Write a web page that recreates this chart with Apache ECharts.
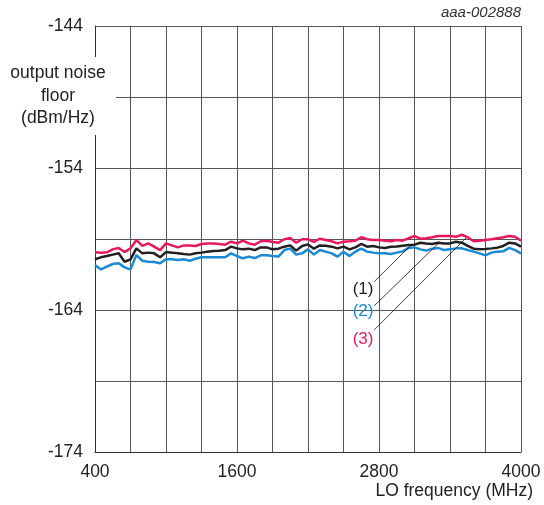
<!DOCTYPE html>
<html>
<head>
<meta charset="utf-8">
<script src="https://cdn.jsdelivr.net/npm/echarts@6/dist/echarts.min.js"></script>
<style>
html,body{margin:0;padding:0;background:#fff;}
#chart{width:544px;height:505px;}
</style>
</head>
<body>
<div id="chart"></div>
<script>
// LO frequency (MHz), 50 MHz steps
var freqs = [];
for (var f = 400; f <= 4000; f += 50) freqs.push(f);

// series (3) red
var noise3 = [-159.94,-159.96,-159.94,-159.73,-159.63,-159.92,-159.66,-159.07,-159.49,-159.31,
-159.54,-159.78,-159.31,-159.45,-159.59,-159.45,-159.45,-159.49,-159.35,-159.31,
-159.31,-159.35,-159.40,-159.19,-159.31,-159.12,-159.31,-159.40,-159.16,-159.12,
-159.21,-159.26,-159.02,-158.93,-159.26,-159.02,-159.02,-159.21,-158.98,-159.07,
-159.16,-159.31,-159.19,-159.16,-159.12,-158.88,-159.02,-159.07,-159.07,-159.12,
-159.16,-159.07,-159.12,-158.95,-158.79,-158.98,-158.95,-158.88,-158.79,-158.79,
-158.79,-158.84,-158.70,-158.88,-159.16,-159.12,-159.07,-159.02,-158.95,-158.88,
-158.79,-158.84,-159.12];

// series (1) black
var noise1 = [-160.43,-160.29,-160.20,-160.10,-160.01,-160.60,-160.43,-159.66,-160.01,-159.96,
-160.01,-160.29,-159.92,-159.96,-160.01,-160.06,-160.10,-160.01,-159.96,-159.89,
-159.85,-159.82,-159.78,-159.54,-159.66,-159.73,-159.68,-159.78,-159.59,-159.59,
-159.73,-159.68,-159.54,-159.45,-159.82,-159.49,-159.38,-159.68,-159.45,-159.47,
-159.54,-159.66,-159.54,-159.73,-159.59,-159.35,-159.54,-159.49,-159.59,-159.63,
-159.54,-159.52,-159.47,-159.42,-159.40,-159.26,-159.31,-159.35,-159.26,-159.31,
-159.31,-159.19,-159.26,-159.49,-159.68,-159.73,-159.70,-159.66,-159.61,-159.49,
-159.26,-159.31,-159.54];

// series (2) blue
var noise2 = [-160.83,-161.14,-160.95,-160.76,-160.71,-161.00,-161.14,-160.13,-160.53,-160.60,
-160.62,-160.71,-160.43,-160.43,-160.48,-160.43,-160.53,-160.39,-160.29,-160.29,
-160.29,-160.29,-160.29,-160.01,-160.20,-160.36,-160.24,-160.34,-160.15,-160.15,
-160.20,-160.24,-159.78,-159.68,-160.10,-160.01,-159.73,-160.10,-159.78,-159.89,
-160.01,-160.24,-159.89,-160.20,-159.89,-159.68,-159.89,-159.96,-160.01,-160.01,
-160.06,-159.96,-159.87,-159.63,-159.59,-159.73,-159.82,-159.68,-159.63,-159.78,
-159.73,-159.66,-159.66,-159.78,-159.89,-160.01,-160.15,-159.96,-159.89,-159.87,
-159.63,-159.78,-160.01];

var yTickLabels = [-174, -164, -154, -144];
var xTickLabels = [400, 1600, 2800, 4000];

// annotation labels and leader lines (data coordinates)
var annotLabels = ['(1)', '(2)', '(3)'];
var annotLabelPos = [[2665, -162.52], [2665, -164.07], [2665, -166.04]];
var annotLineStart = [[2760, -162.0], [2760, -163.7], [2760, -165.4]];
var annotLineEnd = [[3080, -159.35], [3315, -159.2], [3545, -158.85]];

var colBlack = '#231f20', colBlue = '#1a8ad4', colRed = '#e5195b';
var annotColors = [colBlack, colBlue, colRed];
var FONT = 'Liberation Sans, Arial, sans-serif';

function zip(xs, ys) { return xs.map(function (x, i) { return [x, ys[i]]; }); }

var chart = echarts.init(document.getElementById('chart'), null, {renderer: 'canvas'});

var option = {
  animation: false,
  backgroundColor: '#fff',
  grid: {left: 95, right: 23, top: 26, bottom: 53, containLabel: false},
  xAxis: {
    type: 'value', min: 400, max: 4000, interval: 300,
    axisLine: {show: true, lineStyle: {color: '#333', width: 1}},
    axisTick: {show: false},
    splitLine: {show: true, lineStyle: {color: '#555', width: 1}},
    axisLabel: {
      margin: 11, color: '#222', fontSize: 17.5, fontFamily: FONT,
      showMinLabel: true, showMaxLabel: true,
      formatter: function (v) { return xTickLabels.indexOf(v) >= 0 ? String(v) : ''; }
    }
  },
  yAxis: {
    type: 'value', min: -174, max: -144, interval: 5,
    axisLine: {show: true, lineStyle: {color: '#333', width: 1}},
    axisTick: {show: false},
    splitLine: {show: true, lineStyle: {color: '#555', width: 1}},
    axisLabel: {
      margin: 12, color: '#222', fontSize: 17.5, fontFamily: FONT,
      formatter: function (v) { return yTickLabels.indexOf(v) >= 0 ? String(v) : ''; }
    }
  },
  series: [
    {type: 'line', data: zip(freqs, noise2), symbol: 'none', z: 3,
     lineStyle: {color: colBlue, width: 2.5}},
    {type: 'line', data: zip(freqs, noise1), symbol: 'none', z: 4,
     lineStyle: {color: colBlack, width: 2.5}},
    {type: 'line', data: zip(freqs, noise3), symbol: 'none', z: 5,
     lineStyle: {color: colRed, width: 2.5},
     markLine: {
       silent: true, symbol: 'none', animation: false,
       label: {show: false},
       lineStyle: {color: '#111', width: 0.8, type: 'solid'},
       data: annotLineStart.map(function (s, i) {
         return [{coord: s}, {coord: annotLineEnd[i]}];
       })
     }}
  ]
};
chart.setOption(option);

var g = [];
// y-axis title with white background box
g.push({type: 'rect', shape: {x: 0, y: 57, width: 116, height: 78}, style: {fill: '#fff'}, z: 100});
g.push({type: 'text', x: 58, y: 96, z: 101,
  style: {text: 'output noise\nfloor\n(dBm/Hz)', fill: '#222', font: '17.5px ' + FONT,
    align: 'center', verticalAlign: 'middle', lineHeight: 22.5}});
// x-axis title
g.push({type: 'text', x: 533, y: 491, z: 101,
  style: {text: 'LO frequency (MHz)', fill: '#222', font: '17.5px ' + FONT,
    align: 'right', verticalAlign: 'middle'}});
// figure id
g.push({type: 'text', x: 521, y: 13, z: 101,
  style: {text: 'aaa-002888', fill: '#333', font: 'italic 15px ' + FONT,
    align: 'right', verticalAlign: 'middle'}});
// annotation labels
annotLabels.forEach(function (t, i) {
  var p = chart.convertToPixel({gridIndex: 0}, annotLabelPos[i]);
  g.push({type: 'text', x: p[0], y: p[1], z: 101,
    style: {text: t, fill: annotColors[i], font: '17px ' + FONT,
      align: 'center', verticalAlign: 'middle'}});
});
chart.setOption({graphic: g});
</script>
</body>
</html>
